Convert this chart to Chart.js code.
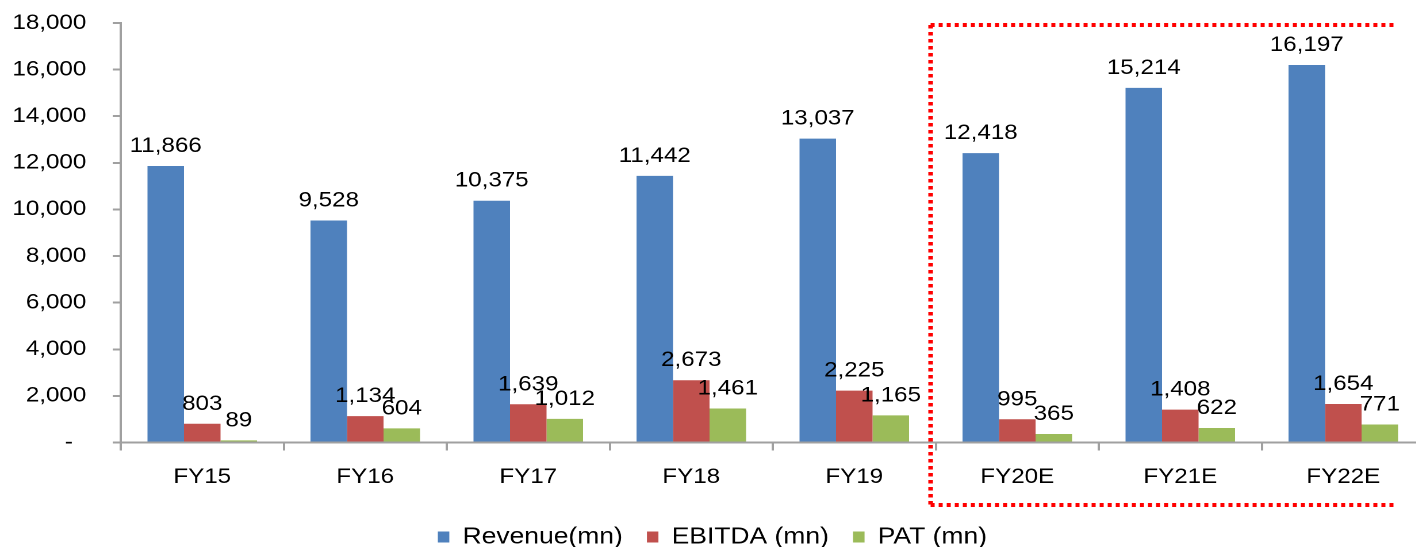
<!DOCTYPE html>
<html>
<head>
<meta charset="utf-8">
<script src="https://cdn.jsdelivr.net/npm/chart.js@4/dist/chart.umd.min.js"></script>
<style>
  html, body { margin: 0; padding: 0; background: #fff; overflow: hidden; }
  #wrap { position: relative; width: 1416px; height: 547px; overflow: hidden; }
  /* the drawing is laid out at 1247 units and stretched to 1434px wide */
  #c { display: block; width: 1434px; height: 547px; }
</style>
</head>
<body>
<div id="wrap"><canvas id="c" width="1247" height="547" style="width:1434px;height:547px"></canvas></div>
<script>
// Financial summary, actuals and estimates
const categories = ['FY15', 'FY16', 'FY17', 'FY18', 'FY19', 'FY20E', 'FY21E', 'FY22E'];
const revenue = [11866, 9528, 10375, 11442, 13037, 12418, 15214, 16197];
const ebitda  = [803, 1134, 1639, 2673, 2225, 995, 1408, 1654];
const pat     = [89, 604, 1012, 1461, 1165, 365, 622, 771];
const yTickLabels = ['-\u00a0\u00a0', '2,000', '4,000', '6,000', '8,000', '10,000', '12,000', '14,000', '16,000', '18,000'];
const estimateStart = 5; // first estimated year (FY20E)

const FONT = "'Liberation Sans', Arial, sans-serif";
const AXIS_GREY = '#a0a0a0';
const STRETCH = 1434 / 1247;   // horizontal CSS stretch of the canvas
const FRAME_END = 1397;        // where the dotted frame's open side stops, in CSS px

// value labels above each bar
const barValueLabels = {
  id: 'barValueLabels',
  afterDatasetsDraw(chart) {
    const ctx = chart.ctx;
    ctx.save();
    ctx.font = '21px ' + FONT;
    ctx.fillStyle = '#000';
    ctx.textAlign = 'center';
    ctx.textBaseline = 'alphabetic';
    chart.data.datasets.forEach((ds, di) => {
      const meta = chart.getDatasetMeta(di);
      meta.data.forEach((bar, i) => {
        ctx.fillText(ds.data[i].toLocaleString('en-US'), bar.x, bar.y - 14);
      });
    });
    ctx.restore();
  }
};

// dotted frame around the estimate years (open on the right)
const estimateFrame = {
  id: 'estimateFrame',
  afterDraw(chart) {
    const x = chart.scales.x;
    const half = (x.getPixelForValue(1) - x.getPixelForValue(0)) / 2;
    const left = x.getPixelForValue(estimateStart) - half - 4.5;
    const top = chart.chartArea.top + 2;
    const bottom = 505;
    const right = FRAME_END / STRETCH;
    const ctx = chart.ctx;
    ctx.save();
    ctx.strokeStyle = '#ff0000';
    ctx.lineWidth = 4;
    ctx.setLineDash([3.5, 3.5]);
    const seg = (x1, y1, x2, y2) => {
      ctx.beginPath();
      ctx.moveTo(x1, y1);
      ctx.lineTo(x2, y2);
      ctx.stroke();
    };
    seg(left, top, right, top);
    seg(left, top, left, bottom);
    seg(left, bottom, right, bottom);
    ctx.restore();
  }
};

new Chart(document.getElementById('c'), {
  type: 'bar',
  data: {
    labels: categories,
    datasets: [
      { label: 'Revenue(mn)', data: revenue, backgroundColor: '#4f81bd' },
      { label: 'EBITDA (mn)', data: ebitda, backgroundColor: '#c0504d' },
      { label: 'PAT (mn)', data: pat, backgroundColor: '#9bbb59' }
    ]
  },
  options: {
    responsive: false,
    devicePixelRatio: 2,
    animation: false,
    categoryPercentage: 0.672,
    barPercentage: 1,
    layout: { padding: { top: 23, right: 8, left: 0, bottom: -11.5 } },
    plugins: {
      tooltip: { enabled: false },
      legend: {
        position: 'bottom',
        labels: {
          color: '#000',
          font: { family: FONT, size: 23 },
          boxWidth: 10,
          boxHeight: 11,
          padding: 21
        }
      }
    },
    scales: {
      x: {
        grid: { offset: true, drawOnChartArea: false, tickLength: 8, color: AXIS_GREY, lineWidth: 2 },
        border: { display: true, color: AXIS_GREY, width: 2 },
        ticks: { color: '#000', font: { family: FONT, size: 21 }, padding: 14, maxRotation: 0 },
        afterFit(scale) { scale.height = 62; }
      },
      y: {
        min: 0,
        max: 18000,
        grid: { drawOnChartArea: false, tickLength: 7, color: AXIS_GREY, lineWidth: 2 },
        border: { display: true, color: AXIS_GREY, width: 2 },
        ticks: {
          stepSize: 2000,
          color: '#000',
          font: { family: FONT, size: 21 },
          padding: 23,
          callback: (v, i) => yTickLabels[i]
        },
        afterFit(scale) {
          scale.width = 105;
          scale.paddingTop = 0;
          scale.paddingBottom = 0;
        }
      }
    }
  },
  plugins: [barValueLabels, estimateFrame]
});
</script>
</body>
</html>
